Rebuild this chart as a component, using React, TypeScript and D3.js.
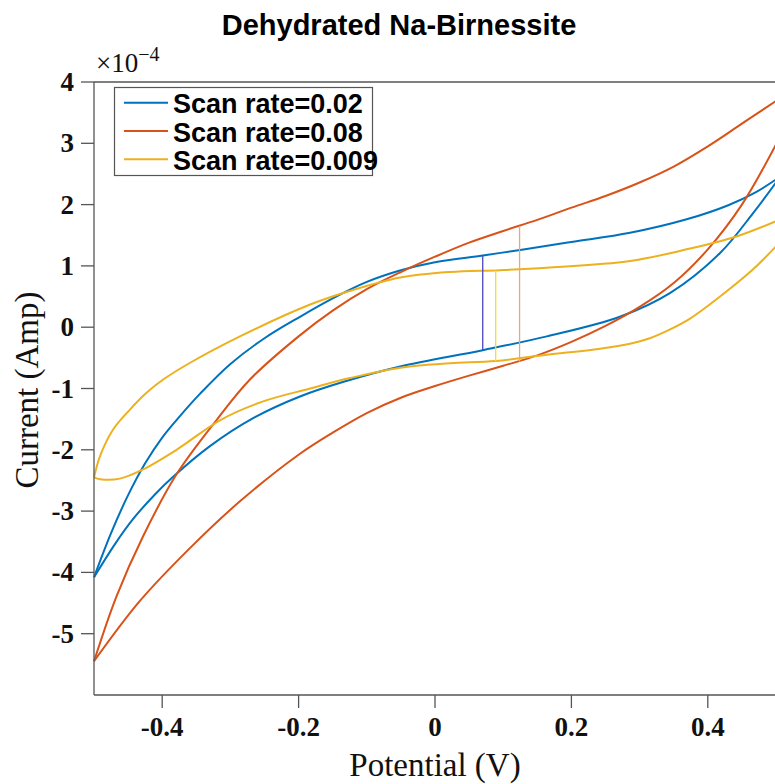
import React from "react";
import * as d3 from "d3";

type P = [number, number];

// Potential (V), Current (x1e-4 A)
const blueUpper: P[] = [
  [-0.5, -4.08], [-0.475, -3.36], [-0.45, -2.74], [-0.425, -2.22], [-0.4, -1.8],
  [-0.374, -1.45], [-0.344, -1.08], [-0.3, -0.6], [-0.25, -0.18], [-0.198, 0.17],
  [-0.15, 0.47], [-0.1, 0.74], [-0.05, 0.93], [0, 1.06], [0.07, 1.17], [0.125, 1.26],
  [0.2, 1.39], [0.286, 1.54], [0.369, 1.76], [0.43, 1.99], [0.47, 2.2], [0.5, 2.41],
];
const blueLower: P[] = [
  [-0.5, -4.08], [-0.47, -3.55], [-0.442, -3.12], [-0.41, -2.72], [-0.384, -2.44],
  [-0.33, -1.94], [-0.266, -1.48], [-0.198, -1.13], [-0.134, -0.89], [-0.051, -0.64],
  [0.07, -0.375], [0.164, -0.15], [0.271, 0.17], [0.345, 0.56], [0.418, 1.21],
  [0.467, 1.87], [0.5, 2.36],
];
const orangeUpper: P[] = [
  [-0.5, -5.45], [-0.467, -4.39], [-0.428, -3.41], [-0.379, -2.4], [-0.32, -1.51],
  [-0.271, -0.85], [-0.2, -0.15], [-0.15, 0.27], [-0.1, 0.62], [-0.05, 0.9],
  [0, 1.15], [0.05, 1.38], [0.1, 1.57], [0.15, 1.75], [0.2, 1.95], [0.25, 2.14],
  [0.3, 2.36], [0.35, 2.62], [0.4, 2.95], [0.45, 3.32], [0.5, 3.69],
];
const orangeLower: P[] = [
  [-0.5, -5.45], [-0.433, -4.47], [-0.359, -3.6], [-0.286, -2.84], [-0.2, -2.08],
  [-0.15, -1.72], [-0.1, -1.4], [-0.05, -1.15], [0, -0.96], [0.05, -0.79],
  [0.1, -0.63], [0.15, -0.46], [0.2, -0.24], [0.25, 0.02], [0.3, 0.33],
  [0.35, 0.72], [0.4, 1.27], [0.45, 2.0], [0.5, 2.98],
];
const yellowUpper: P[] = [
  [-0.5, -2.45], [-0.491, -2.1], [-0.472, -1.67], [-0.447, -1.34], [-0.423, -1.07],
  [-0.398, -0.85], [-0.359, -0.58], [-0.286, -0.15], [-0.183, 0.37], [-0.125, 0.59],
  [-0.051, 0.81], [0.022, 0.9], [0.095, 0.93], [0.164, 0.97], [0.286, 1.08],
  [0.369, 1.27], [0.442, 1.48], [0.5, 1.73],
];
const yellowLower: P[] = [
  [-0.5, -2.45], [-0.491, -2.48], [-0.462, -2.47], [-0.428, -2.32], [-0.379, -2.0],
  [-0.314, -1.51], [-0.252, -1.21], [-0.183, -1.0], [-0.125, -0.83], [-0.051, -0.66],
  [0.022, -0.59], [0.089, -0.55], [0.164, -0.45], [0.242, -0.35], [0.286, -0.27],
  [0.315, -0.18], [0.344, -0.04], [0.374, 0.14], [0.418, 0.5], [0.466, 0.94], [0.5, 1.32],
];

const seriesNames = ["Scan rate=0.02", "Scan rate=0.08", "Scan rate=0.009"];
const seriesBranches: P[][][] = [
  [blueUpper, blueLower],
  [orangeUpper, orangeLower],
  [yellowUpper, yellowLower],
];
const seriesColors = ["#0072BD", "#D95319", "#EDB120"];

// vertical marker lines: [potential, top current, bottom current]
const markerLines: [number, number, number][] = [
  [0.07, 1.17, -0.375],
  [0.089, 0.93, -0.555],
  [0.124, 1.65, -0.56],
];
const markerColors = ["#4646C4", "#F3DC3A", "#EAA878"];

const xTicks = [-0.4, -0.2, 0, 0.2, 0.4];
const xTickLabels = ["-0.4", "-0.2", "0", "0.2", "0.4"];
const yTicks = [-5, -4, -3, -2, -1, 0, 1, 2, 3, 4];
const yTickLabels = ["-5", "-4", "-3", "-2", "-1", "0", "1", "2", "3", "4"];

export default function App() {
  const W = 775;
  const H = 784;
  const left = 94, right = 776, top = 82, bottom = 695;
  const x = d3.scaleLinear().domain([-0.5, 0.5]).range([left, right]);
  const y = d3.scaleLinear().domain([-6, 4]).range([bottom, top]);
  const line = d3
    .line<P>()
    .x((d) => x(d[0]))
    .y((d) => y(d[1]))
    .curve(d3.curveCatmullRom.alpha(0.5));

  const serif = "'Liberation Serif', 'Times New Roman', serif";
  const sans = "'Liberation Sans', Arial, sans-serif";
  const axisColor = "#555";

  return (
    <div style={{ position: "absolute", left: 0, top: 0 }}>
      <svg width={W} height={H} style={{ display: "block", background: "#fff" }}>
        <rect x={0} y={0} width={W} height={H} fill="#fff" />
        {/* title */}
        <text x={399} y={35} textAnchor="middle" fontFamily={sans} fontWeight="bold" fontSize={29} fill="#000">
          Dehydrated Na-Birnessite
        </text>
        {/* exponent */}
        <text x={96} y={72} fontFamily={serif} fontSize={27} fill="#111">
          ×10
          <tspan dy={-11} fontSize={20}>−4</tspan>
        </text>

        {/* curves */}
        {seriesBranches.map((branches, i) =>
          branches.map((b, j) => (
            <path key={`${i}-${j}`} d={line(b) || ""} fill="none" stroke={seriesColors[i]} strokeWidth={2} />
          ))
        )}
        {/* markers */}
        {markerLines.map((m, i) => (
          <line key={i} x1={x(m[0])} x2={x(m[0])} y1={y(m[1])} y2={y(m[2])} stroke={markerColors[i]} strokeWidth={1.3} />
        ))}

        {/* axes box */}
        <line x1={left} x2={left} y1={top} y2={bottom} stroke={axisColor} strokeWidth={1.3} />
        <line x1={left} x2={right} y1={bottom} y2={bottom} stroke={axisColor} strokeWidth={1.3} />
        <line x1={left} x2={right} y1={top} y2={top} stroke={axisColor} strokeWidth={1.3} />

        {/* y ticks */}
        {yTicks.map((t, i) => (
          <g key={t}>
            <line x1={left - 13} x2={left} y1={y(t)} y2={y(t)} stroke={axisColor} strokeWidth={1.3} />
            <text x={74} y={y(t)} textAnchor="end" dominantBaseline="central" fontFamily={serif} fontWeight="bold" fontSize={27} fill="#111">
              {yTickLabels[i]}
            </text>
          </g>
        ))}
        {/* x ticks */}
        {xTicks.map((t, i) => (
          <g key={t}>
            <line x1={x(t)} x2={x(t)} y1={bottom} y2={bottom + 13} stroke={axisColor} strokeWidth={1.3} />
            <text x={x(t)} y={736} textAnchor="middle" fontFamily={serif} fontWeight="bold" fontSize={27} fill="#111">
              {xTickLabels[i]}
            </text>
          </g>
        ))}

        {/* axis labels */}
        <text x={435} y={776} textAnchor="middle" fontFamily={serif} fontSize={33} fill="#111">
          Potential (V)
        </text>
        <text transform={`translate(38, ${390}) rotate(-90)`} textAnchor="middle" fontFamily={serif} fontSize={33} fill="#111">
          Current (Amp)
        </text>

        {/* legend */}
        <rect x={114.5} y={87.5} width={258} height={88} fill="#fff" stroke={axisColor} strokeWidth={1.2} />
        {seriesNames.map((n, i) => (
          <g key={n}>
            <line x1={124} x2={168} y1={102.7 + i * 28.3} y2={102.7 + i * 28.3} stroke={seriesColors[i]} strokeWidth={2} />
            <text x={173} y={113.3 + i * 28.3} fontFamily={sans} fontWeight="bold" fontSize={27} fill="#000">
              {n}
            </text>
          </g>
        ))}
      </svg>
    </div>
  );
}
